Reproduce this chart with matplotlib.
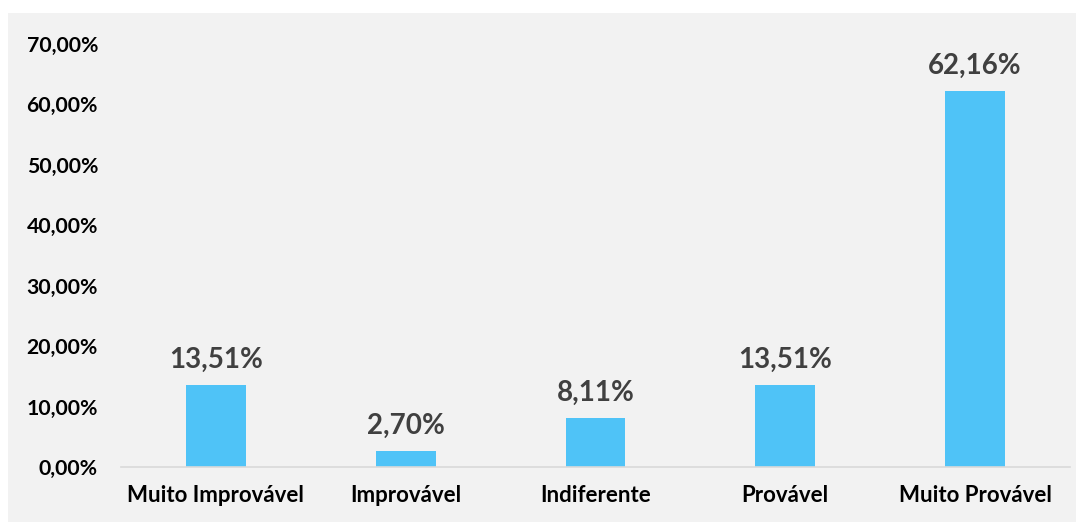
import matplotlib.pyplot as plt
from matplotlib.patches import Rectangle

categories = ["Muito Improvável", "Improvável", "Indiferente", "Provável", "Muito Provável"]
values = [13.51, 2.70, 8.11, 13.51, 62.16]
yticks = [0, 10, 20, 30, 40, 50, 60, 70]

plt.rcParams['font.family'] = ['Lato', 'DejaVu Sans']

fig = plt.figure(figsize=(10.84, 5.22), dpi=100)
fig.patch.set_facecolor('white')
fig.patches.append(Rectangle((8 / 1084, 0), 1 - 16 / 1084, 1 - 13 / 522,
                             transform=fig.transFigure, facecolor='#f2f2f2',
                             edgecolor='none', zorder=-10))

ax = fig.add_axes([121 / 1084, 1 - 467 / 522, (1070 - 121) / 1084, (467 - 44) / 522])
ax.set_facecolor('none')

x = range(len(categories))
ax.bar(x, values, width=0.316, color='#4fc3f7', zorder=2)
for i, v in zip(x, values):
    ax.text(i, v + 2.0, f"{v:.2f}%".replace('.', ','), ha='center', va='bottom',
            fontsize=20, fontweight='bold', color='#404040')

ax.set_xlim(-0.5, len(categories) - 0.5)
ax.set_ylim(0, 70)
ax.set_yticks(yticks)
ax.set_yticklabels([f"{t:.2f}%".replace('.', ',') for t in yticks])
ax.set_xticks(list(x))
ax.set_xticklabels(categories)

for lbl in ax.get_yticklabels():
    lbl.set_fontweight('bold')
    lbl.set_fontsize(15.3)
    lbl.set_color('black')
for lbl in ax.get_xticklabels():
    lbl.set_fontweight('bold')
    lbl.set_fontsize(16)
    lbl.set_color('black')

ax.tick_params(axis='both', length=0)
ax.tick_params(axis='y', pad=16.5)
ax.tick_params(axis='x', pad=13)
for s in ['top', 'right', 'left']:
    ax.spines[s].set_visible(False)
ax.spines['bottom'].set_color('#d9d9d9')
ax.spines['bottom'].set_linewidth(1.2)

fig.savefig('out.png', dpi=100, facecolor=fig.get_facecolor())
